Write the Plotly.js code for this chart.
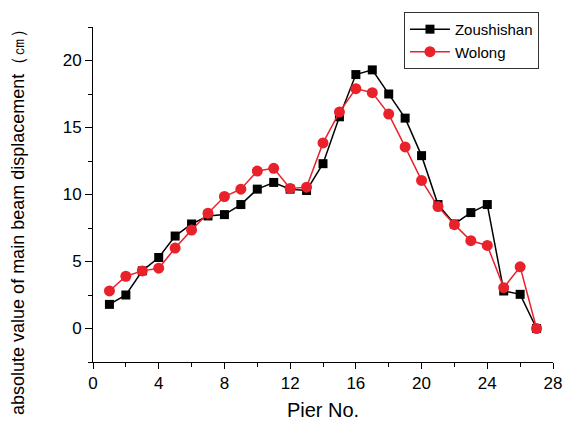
<!DOCTYPE html>
<html><head><meta charset="utf-8">
<script src="https://cdn.plot.ly/plotly-3.0.1.min.js"></script>
<style>body{margin:0;background:#fff}#c{width:564px;height:426px}</style>
</head><body><div id="c"></div>
<script>
const pier = [1,2,3,4,5,6,7,8,9,10,11,12,13,14,15,16,17,18,19,20,21,22,23,24,25,26,27];
const zoushishan = [1.8,2.5,4.3,5.3,6.9,7.8,8.4,8.5,9.25,10.4,10.9,10.4,10.3,12.3,15.8,18.95,19.3,17.5,15.7,12.9,9.25,7.8,8.65,9.25,2.8,2.55,0];
const wolong = [2.8,3.9,4.3,4.5,6.0,7.35,8.6,9.85,10.4,11.75,11.95,10.45,10.55,13.85,16.15,17.9,17.6,16.0,13.55,11.05,9.1,7.75,6.55,6.2,3.05,4.6,0];
const yTitle = 'absolute value of main beam displacement（㎝）';

const font = 'Arial, Liberation Sans, sans-serif';
const traces = [
  {x: pier, y: zoushishan, name: 'Zoushishan', mode: 'lines+markers',
   line: {color: '#000000', width: 1.5}, marker: {symbol: 'square', size: 9, color: '#000000'}},
  {x: pier, y: wolong, name: 'Wolong', mode: 'lines+markers',
   line: {color: '#e8212b', width: 1.5}, marker: {symbol: 'circle', size: 11, color: '#e8212b'}}
];
const layout = {
  width: 564, height: 426,
  margin: {l: 93, r: 11, t: 27, b: 64},
  paper_bgcolor: '#fff', plot_bgcolor: '#fff',
  font: {family: font, size: 16, color: '#000'},
  showlegend: true,
  legend: {x: 0.676, y: 1.045, xanchor: 'left', yanchor: 'top',
    bordercolor: '#333', borderwidth: 1, bgcolor: '#fff',
    font: {family: font, size: 15}, tracegroupgap: 0, itemwidth: 40},
  xaxis: {range: [0, 28], dtick: 4, tick0: 0, showgrid: false, zeroline: false,
    showline: true, linecolor: '#000', linewidth: 1, ticks: 'outside', ticklen: 6, tickcolor: '#000',
    minor: {dtick: 2, ticks: 'outside', ticklen: 4, tickcolor: '#000', showgrid: false},
    tickfont: {family: font, size: 17},
    title: {text: 'Pier No.', font: {family: font, size: 20}, standoff: 10}},
  yaxis: {range: [-2.5, 22.5], dtick: 5, tick0: 0, showgrid: false, zeroline: false,
    showline: true, linecolor: '#000', linewidth: 1, ticks: 'outside', ticklen: 7, tickcolor: '#000',
    minor: {dtick: 2.5, ticks: 'outside', ticklen: 4, tickcolor: '#000', showgrid: false},
    tickfont: {family: font, size: 17}},
  annotations: [{text: yTitle, xref: 'paper', yref: 'paper', x: -0.163, y: 0.43,
    xanchor: 'center', yanchor: 'middle', textangle: -90, showarrow: false,
    font: {family: font, size: 18, color: '#000'}}]
};
Plotly.newPlot('c', traces, layout, {displayModeBar: false, staticPlot: true});
</script></body></html>
